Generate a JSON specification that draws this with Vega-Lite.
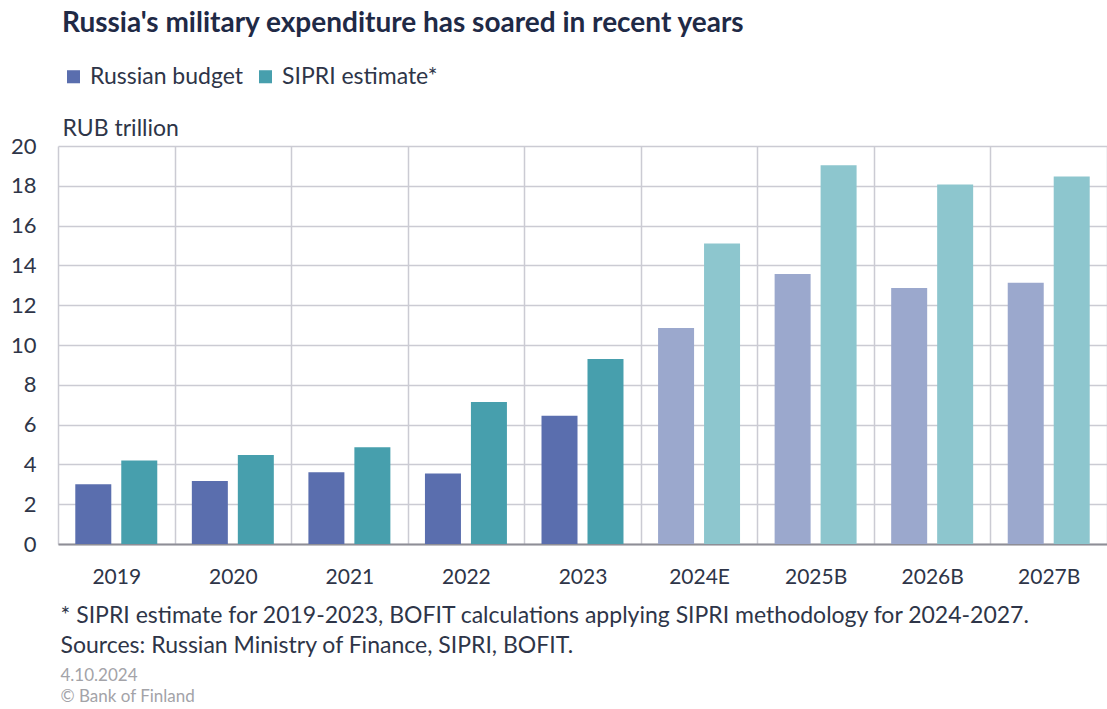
{
  "$schema": "https://vega.github.io/schema/vega-lite/v6.json",
  "width": 1049,
  "height": 398,
  "autosize": {"type": "none"},
  "padding": {"left": 58, "top": 146, "right": 0, "bottom": 165},
  "background": "white",
  "config": {"view": {"stroke": null}, "font": "Lato"},
  "data": {
    "values": [
      {"year": "2019", "series": "Russian budget", "key": "Russian budget", "value": 3.0},
      {"year": "2019", "series": "SIPRI estimate*", "key": "SIPRI estimate*", "value": 4.2},
      {"year": "2020", "series": "Russian budget", "key": "Russian budget", "value": 3.17},
      {"year": "2020", "series": "SIPRI estimate*", "key": "SIPRI estimate*", "value": 4.47},
      {"year": "2021", "series": "Russian budget", "key": "Russian budget", "value": 3.6},
      {"year": "2021", "series": "SIPRI estimate*", "key": "SIPRI estimate*", "value": 4.86},
      {"year": "2022", "series": "Russian budget", "key": "Russian budget", "value": 3.54},
      {"year": "2022", "series": "SIPRI estimate*", "key": "SIPRI estimate*", "value": 7.13},
      {"year": "2023", "series": "Russian budget", "key": "Russian budget", "value": 6.44},
      {"year": "2023", "series": "SIPRI estimate*", "key": "SIPRI estimate*", "value": 9.3},
      {"year": "2024E", "series": "Russian budget", "key": "Russian budget (projection)", "value": 10.85},
      {"year": "2024E", "series": "SIPRI estimate*", "key": "SIPRI estimate* (projection)", "value": 15.1},
      {"year": "2025B", "series": "Russian budget", "key": "Russian budget (projection)", "value": 13.57},
      {"year": "2025B", "series": "SIPRI estimate*", "key": "SIPRI estimate* (projection)", "value": 19.03},
      {"year": "2026B", "series": "Russian budget", "key": "Russian budget (projection)", "value": 12.87},
      {"year": "2026B", "series": "SIPRI estimate*", "key": "SIPRI estimate* (projection)", "value": 18.07},
      {"year": "2027B", "series": "Russian budget", "key": "Russian budget (projection)", "value": 13.13},
      {"year": "2027B", "series": "SIPRI estimate*", "key": "SIPRI estimate* (projection)", "value": 18.47}
    ]
  },
  "encoding": {
    "y": {
      "field": "value",
      "type": "quantitative",
      "scale": {"domain": [0, 20], "nice": false},
      "axis": {
        "values": [0, 2, 4, 6, 8, 10, 12, 14, 16, 18, 20],
        "labelOverlap": false,
        "domain": false,
        "ticks": false,
        "grid": true,
        "gridColor": "#cbcbd3",
        "gridWidth": 1.5,
        "labelFontSize": 22,
        "labelColor": "#2e3548",
        "labelPadding": 22,
        "title": "RUB trillion",
        "titleAngle": 0,
        "titleAlign": "left",
        "titleBaseline": "middle",
        "titleX": 4,
        "titleY": -18,
        "titleFontSize": 23,
        "titleFontWeight": "normal",
        "titleColor": "#2e3548"
      }
    }
  },
  "layer": [
    {
      "mark": {"type": "bar"},
      "encoding": {
        "x": {
          "field": "year",
          "type": "nominal",
          "sort": null,
          "scale": {"paddingInner": 0, "paddingOuter": 0},
          "axis": {
            "orient": "bottom",
            "labelAngle": 0,
            "labelFontSize": 21,
            "labelColor": "#2e3548",
            "labelPadding": 22,
            "ticks": false,
            "tickBand": "extent",
            "domain": true,
            "domainColor": "#8e8e96",
            "domainWidth": 2,
            "grid": true,
            "gridColor": "#cbcbd3",
            "gridWidth": 1.5,
            "title": ["* SIPRI estimate for 2019-2023, BOFIT calculations applying SIPRI methodology for 2024-2027.", "Sources: Russian Ministry of Finance, SIPRI, BOFIT."],
            "titleAnchor": "start",
            "titleAlign": "left",
            "titleBaseline": "top",
            "titleX": 2,
            "titleY": 60,
            "titleFontSize": 23,
            "titleFontWeight": "normal",
            "titleColor": "#2e3548",
            "titleLineHeight": 30
          }
        },
        "xOffset": {
          "field": "series",
          "type": "nominal",
          "sort": ["Russian budget", "SIPRI estimate*"],
          "scale": {"paddingInner": 0.217, "paddingOuter": 0.376}
        },
        "color": {
          "field": "key",
          "type": "nominal",
          "scale": {
            "domain": ["Russian budget", "SIPRI estimate*", "Russian budget (projection)", "SIPRI estimate* (projection)"],
            "range": ["#5a6eae", "#479fad", "#9ba8cd", "#8dc6ce"]
          },
          "legend": {
            "values": ["Russian budget", "SIPRI estimate*"],
            "orient": "none",
            "legendX": 4,
            "legendY": -136,
            "direction": "horizontal",
            "title": "Russia's military expenditure has soared in recent years",
            "titleFontSize": 28,
            "titleFontWeight": "bold",
            "titleColor": "#1f2a46",
            "titleLimit": 1000,
            "titlePadding": 27,
            "titleOrient": "top",
            "titleAnchor": "start",
            "symbolType": "square",
            "symbolSize": 170,
            "symbolStrokeWidth": 0,
            "labelFontSize": 23,
            "labelColor": "#2e3548",
            "labelOffset": 5,
            "columnPadding": 10,
            "labelLimit": 300
          }
        }
      }
    },
    {
      "mark": {"type": "bar", "opacity": 0},
      "encoding": {
        "x": {
          "field": "year",
          "type": "nominal",
          "sort": null,
          "axis": {
            "orient": "bottom",
            "labels": false,
            "ticks": false,
            "domain": false,
            "grid": false,
            "title": ["4.10.2024", "© Bank of Finland"],
            "titleAnchor": "start",
            "titleAlign": "left",
            "titleBaseline": "top",
            "titleX": 2,
            "titleY": 123,
            "titleFontSize": 17,
            "titleFontWeight": "normal",
            "titleColor": "#a3a3a8",
            "titleLineHeight": 21
          }
        }
      }
    }
  ],
  "resolve": {"axis": {"x": "independent"}}
}
